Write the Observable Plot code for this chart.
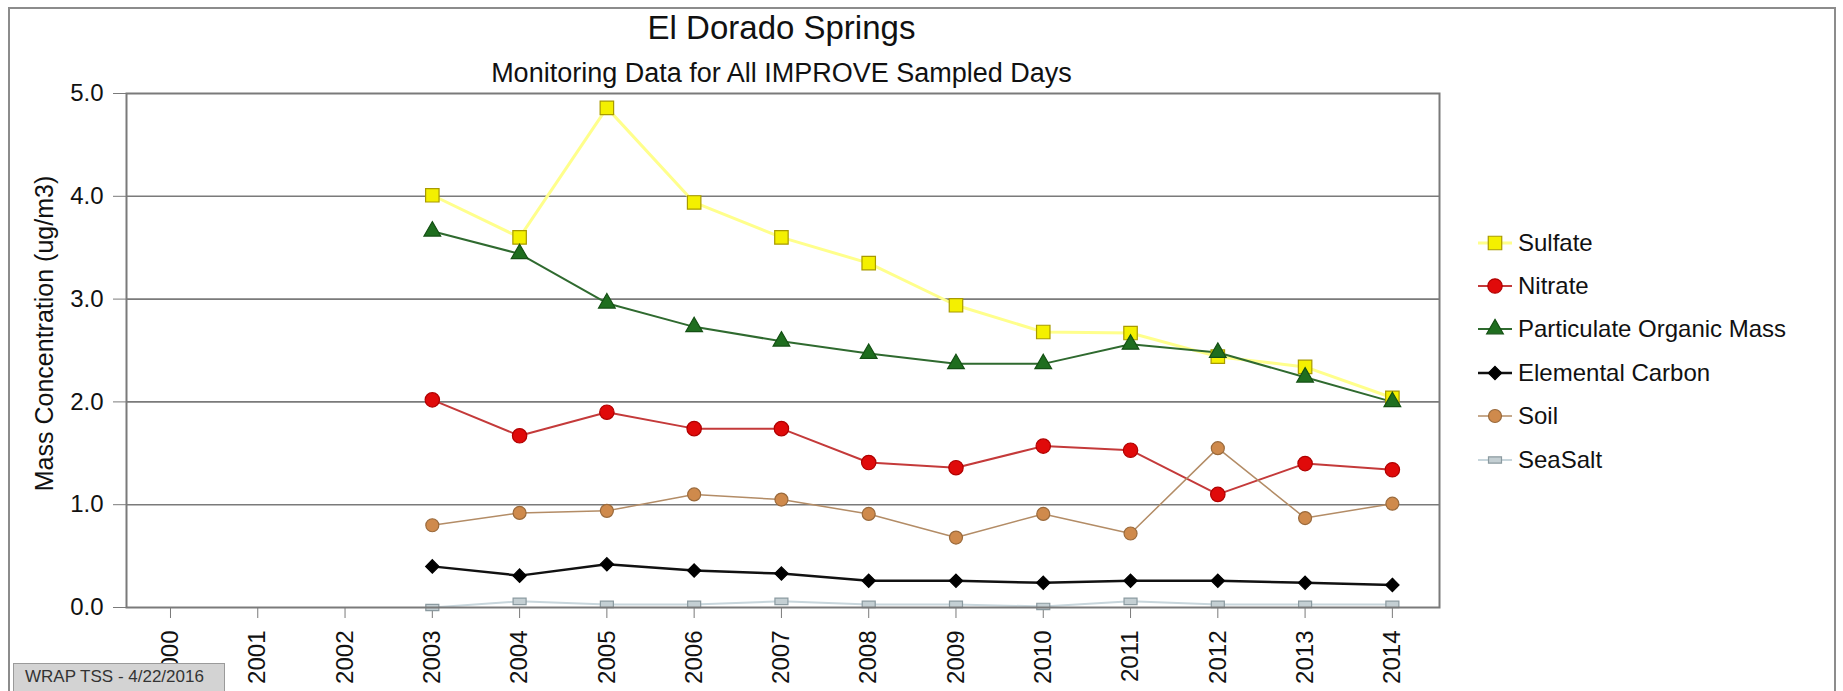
<!DOCTYPE html>
<html>
<head>
<meta charset="utf-8">
<script src="https://cdn.jsdelivr.net/npm/d3@7"></script>
<script src="https://cdn.jsdelivr.net/npm/@observablehq/plot@0.6"></script>
<style>
  html, body { margin: 0; padding: 0; background: #fff; }
  #wrap { position: relative; width: 1843px; height: 691px; overflow: hidden; font-family: "Liberation Sans", Arial, sans-serif; color: #111; }
  #frame { position: absolute; left: 8px; top: 7px; width: 1828px; height: 720px; border: 2px solid #8c8c8c; box-sizing: border-box; }
  #chart { position: absolute; left: 0; top: 0; }
  .ttl { position: absolute; left: 0; width: 1563px; text-align: center; white-space: nowrap; }
  #title { top: 9px; font-size: 33px; }
  #subtitle { top: 58px; font-size: 27px; }
  #legend { position: absolute; left: 1476px; top: 221px; }
  .lrow { height: 43.4px; display: flex; align-items: center; font-size: 24px; white-space: nowrap; }
  .lrow svg { width: 40px; height: 30px; margin-right: 2px; }
  #footer { position: absolute; left: 13px; top: 663px; width: 212px; height: 30px; background: #d3d3d3; border: 1px solid #9a9a9a; box-sizing: border-box; font-size: 17px; color: #333; padding-left: 11px; line-height: 26px; white-space: nowrap; }
</style>
</head>
<body>
<div id="wrap">
  <div id="frame"></div>
  <div id="chart"></div>
  <div class="ttl" id="title"></div>
  <div class="ttl" id="subtitle"></div>
  <div id="legend"></div>
  <div id="footer"></div>
</div>
<script>
// ---- data ----
const titleText = "El Dorado Springs";
const subtitleText = "Monitoring Data for All IMPROVE Sampled Days";
const yLabel = "Mass Concentration (ug/m3)";
const footerText = "WRAP TSS - 4/22/2016";

const years = [2003, 2004, 2005, 2006, 2007, 2008, 2009, 2010, 2011, 2012, 2013, 2014];
const xTicks = [2000, 2001, 2002, 2003, 2004, 2005, 2006, 2007, 2008, 2009, 2010, 2011, 2012, 2013, 2014];
const yTicks = [0, 1, 2, 3, 4, 5];
const seriesNames = ["Sulfate", "Nitrate", "Particulate Organic Mass", "Elemental Carbon", "Soil", "SeaSalt"];

const sulfate  = [4.01, 3.60, 4.86, 3.94, 3.60, 3.35, 2.94, 2.68, 2.67, 2.44, 2.34, 2.04];
const nitrate  = [2.02, 1.67, 1.90, 1.74, 1.74, 1.41, 1.36, 1.57, 1.53, 1.10, 1.40, 1.34];
const pom      = [3.66, 3.44, 2.96, 2.73, 2.59, 2.47, 2.37, 2.37, 2.56, 2.48, 2.24, 2.00];
const ec       = [0.40, 0.31, 0.42, 0.36, 0.33, 0.26, 0.26, 0.24, 0.26, 0.26, 0.24, 0.22];
const soil     = [0.80, 0.92, 0.94, 1.10, 1.05, 0.91, 0.68, 0.91, 0.72, 1.55, 0.87, 1.01];
const seasalt  = [0.00, 0.06, 0.03, 0.03, 0.06, 0.03, 0.03, 0.01, 0.06, 0.03, 0.03, 0.03];

// ---- styles ----
const rectSymbol = { draw(ctx, size) { const w = 6.5, h = 3.2; ctx.rect(-w, -h, 2 * w, 2 * h); } };
const styles = {
  "Sulfate":                  { values: sulfate, line: "#ffff8c", lw: 3,   symbol: "square",   r: 7.6, fill: "#f4f000", stroke: "#a89a00" },
  "Nitrate":                  { values: nitrate, line: "#c43a3a", lw: 2,   symbol: "circle",   r: 7.2, fill: "#e00a0a", stroke: "#b00000" },
  "Particulate Organic Mass": { values: pom,     line: "#2f6a2f", lw: 2,   symbol: "triangle", r: 6.2, fill: "#1f6e1f", stroke: "#145014" },
  "Elemental Carbon":         { values: ec,      line: "#111111", lw: 2.5, symbol: "diamond2", r: 6.0, fill: "#000000", stroke: "#000000" },
  "Soil":                     { values: soil,    line: "#b38c66", lw: 1.5, symbol: "circle",   r: 6.5, fill: "#cf8a4c", stroke: "#9a6a3c" },
  "SeaSalt":                  { values: seasalt, line: "#c8d6dc", lw: 2,   symbol: rectSymbol, r: 5,   fill: "#c4cfd3", stroke: "#8b9aa0" }
};

const marks = [];
marks.push(Plot.gridY([1, 2, 3, 4], { stroke: "#7a7a7a", strokeOpacity: 1, strokeWidth: 1.6 }));
marks.push(Plot.axisY(yTicks, {
  tickSize: 13, tickPadding: 10, tickFormat: d3.format(".1f"), fontSize: 24,
  stroke: "#7a7a7a", label: null
}));
marks.push(Plot.axisX(xTicks, {
  tickSize: 11, tickPadding: 12, tickRotate: -90, tickFormat: d => String(d), fontSize: 24,
  stroke: "#7a7a7a", label: null
}));
for (const name of seriesNames) {
  const s = styles[name];
  const rows = years.map((yr, i) => ({ year: yr, value: s.values[i] }));
  marks.push(Plot.line(rows, { x: "year", y: "value", stroke: s.line, strokeWidth: s.lw }));
}
for (const name of seriesNames) {
  const s = styles[name];
  const rows = years.map((yr, i) => ({ year: yr, value: s.values[i] }));
  marks.push(Plot.dot(rows, { x: "year", y: "value", symbol: () => s.symbol, r: s.r, fill: s.fill, stroke: s.stroke, strokeWidth: 1.2 }));
}
marks.push(Plot.frame({ stroke: "#7a7a7a", strokeWidth: 2 }));
marks.push(Plot.text([yLabel], { text: d => d, frameAnchor: "left", textAnchor: "middle", lineAnchor: "middle", dx: -82, dy: -17, rotate: -90, fontSize: 25, fill: "#111" }));

const chart = Plot.plot({
  width: 1843,
  height: 691,
  marginLeft: 126,
  marginRight: 404,
  marginTop: 93,
  marginBottom: 84,
  style: { background: "transparent", fontFamily: "'Liberation Sans', Arial, sans-serif", color: "#111", fontSize: "24px" },
  x: { type: "linear", domain: [1999.496, 2014.54], axis: null },
  y: { domain: [0, 5], axis: null },
  symbol: { type: "identity" },
  marks
});
document.getElementById("chart").appendChild(chart);

document.getElementById("title").textContent = titleText;
document.getElementById("subtitle").textContent = subtitleText;
document.getElementById("footer").textContent = footerText;

// legend
const leg = document.getElementById("legend");
for (const name of seriesNames) {
  const s = styles[name];
  const row = document.createElement("div");
  row.className = "lrow";
  const svg = d3.create("svg").attr("viewBox", "0 0 40 30");
  svg.append("line").attr("x1", 2).attr("x2", 36).attr("y1", 15).attr("y2", 15)
    .attr("stroke", s.line).attr("stroke-width", s.lw);
  let symObj;
  if (s.symbol === "square") symObj = d3.symbolSquare;
  else if (s.symbol === "circle") symObj = d3.symbolCircle;
  else if (s.symbol === "triangle") symObj = d3.symbolTriangle;
  else if (s.symbol === "diamond2") symObj = d3.symbolDiamond2;
  else symObj = s.symbol;
  svg.append("path").attr("transform", "translate(19,15)")
    .attr("d", d3.symbol(symObj, s.r * s.r * Math.PI)())
    .attr("fill", s.fill).attr("stroke", s.stroke).attr("stroke-width", 1.2);
  row.appendChild(svg.node());
  const span = document.createElement("span");
  span.textContent = name;
  row.appendChild(span);
  leg.appendChild(row);
}
</script>
</body>
</html>
